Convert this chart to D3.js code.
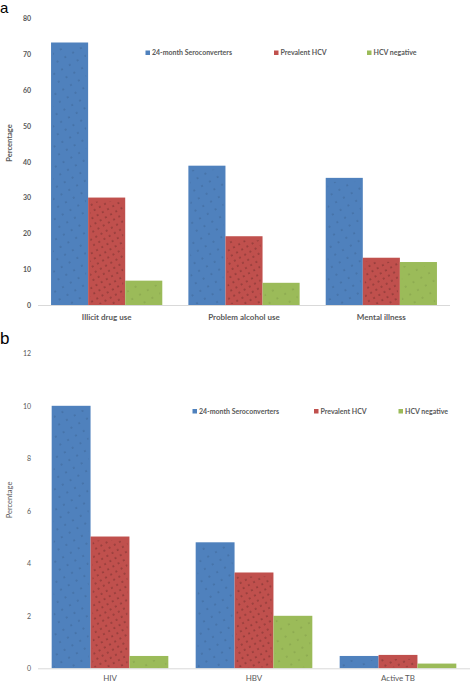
<!DOCTYPE html>
<html><head><meta charset="utf-8">
<script src="https://cdn.jsdelivr.net/npm/d3@7"></script>
<style>body{margin:0;background:#fff}svg{display:block}</style>
</head><body>
<svg id="c" width="472" height="683"></svg>
<script>
const seriesNames = ["24-month Seroconverters", "Prevalent HCV", "HCV negative"];
const colors = ["#4F81BD", "#C0504D", "#9BBB59"];
const catsA = ["Illicit drug use", "Problem alcohol use", "Mental illness"];
const seroA = [73.3, 38.9, 35.5];
const prevA = [30.0, 19.2, 13.2];
const negA = [6.8, 6.2, 12.0];
const ticksA = [0, 10, 20, 30, 40, 50, 60, 70, 80];
const catsB = ["HIV", "HBV", "Active TB"];
const seroB = [10.0, 4.8, 0.47];
const prevB = [5.02, 3.65, 0.51];
const negB = [0.47, 2.0, 0.18];
const ticksB = [0, 2, 4, 6, 8, 10, 12];

const svg = d3.select("#c");
const font = "Lato, 'Open Sans', sans-serif";
const txt = "#595959";

// dot patterns
const defs = svg.append("defs");
[["pb", 0.45, 9], ["pr", 0.85, 6], ["pg", 0.35, 9]].forEach(([id, op, s]) => {
  const p = defs.append("pattern").attr("id", id).attr("patternUnits", "userSpaceOnUse")
    .attr("width", s).attr("height", s).attr("patternTransform", "rotate(-30)");
  p.append("circle").attr("cx", 1).attr("cy", 1).attr("r", 0.55).attr("fill", "#000").attr("opacity", op);
});
const pats = ["url(#pb)", "url(#pr)", "url(#pg)"];

function panel(cfg) {
  const g = svg.append("g");
  const x = d3.scaleBand().domain(cfg.cats).range([cfg.x0, cfg.x1]).paddingInner(0.19).paddingOuter(0.095);
  const xs = d3.scaleBand().domain([0, 1, 2]).range([0, x.bandwidth()]);
  const y = d3.scaleLinear().domain([0, cfg.ticks[cfg.ticks.length - 1]]).range([cfg.y0, cfg.y1]);
  // y tick labels
  const ax = g.append("g").attr("transform", `translate(${cfg.x0},0)`)
    .call(d3.axisLeft(y).tickValues(cfg.ticks).tickSize(0).tickPadding(7));
  ax.select(".domain").remove();
  ax.selectAll("text").attr("font-family", font).attr("font-size", 7).attr("font-weight", cfg.bold ? 700 : 400).attr("fill", txt);
  // bars
  cfg.series.forEach((vals, si) => {
    cfg.cats.forEach((c, ci) => {
      const bx = x(c) + xs(si), bw = xs.bandwidth(), by = y(vals[ci]), bh = y(0) - y(vals[ci]);
      g.append("rect").attr("x", bx).attr("y", by).attr("width", bw).attr("height", bh).attr("fill", colors[si]);
      g.append("rect").attr("x", bx + 2).attr("y", by + 4).attr("width", Math.max(0, bw - 4)).attr("height", Math.max(0, bh - 5)).attr("fill", pats[si]);
    });
  });
  // baseline
  g.append("line").attr("x1", cfg.x0).attr("x2", cfg.x1).attr("y1", y(0) + 0.5).attr("y2", y(0) + 0.5)
    .attr("stroke", "#D9D9D9").attr("stroke-width", 1);
  // category labels
  const xa = g.append("g").attr("transform", `translate(0,${y(0)})`)
    .call(d3.axisBottom(x).tickSize(0).tickPadding(cfg.catPad));
  xa.select(".domain").remove();
  xa.selectAll("text").attr("font-family", font).attr("font-size", 8).attr("font-weight", cfg.bold ? 700 : 400).attr("fill", txt);
  // y title
  g.append("text").attr("transform", `translate(12,${cfg.titleY}) rotate(-90)`).attr("text-anchor", "middle")
    .attr("font-family", font).attr("font-size", 7.5).attr("font-weight", cfg.bold ? 700 : 400).attr("fill", txt).text("Percentage");
  // legend
  seriesNames.forEach((n, i) => {
    g.append("rect").attr("x", cfg.legX[i]).attr("y", cfg.legY - 2.5).attr("width", 4.5).attr("height", 4.5).attr("fill", colors[i]);
    g.append("text").attr("x", cfg.legX[i] + 6.5).attr("y", cfg.legY).attr("dy", "0.35em")
      .attr("font-family", font).attr("font-size", 7).attr("font-weight", 700).attr("fill", txt).text(n);
  });
  // panel letter
  g.append("text").attr("x", 0).attr("y", cfg.letterY).attr("font-family", "'Liberation Sans', Arial, sans-serif")
    .attr("font-size", cfg.letterSize).attr("fill", "#000").text(cfg.letter);
}

panel({cats: catsA, series: [seroA, prevA, negA], ticks: ticksA, x0: 38, x1: 450, y0: 305, y1: 18.5,
  bold: true, catPad: 9, titleY: 143, legX: [145.5, 274, 367], legY: 53, letter: "a", letterY: 13, letterSize: 15});
panel({cats: catsB, series: [seroB, prevB, negB], ticks: ticksB, x0: 38, x1: 470, y0: 668.3, y1: 353.3,
  bold: false, catPad: 7, titleY: 500, legX: [192.5, 314, 398.5], legY: 411.5, letter: "b", letterY: 343.5, letterSize: 17});
</script>
</body></html>
